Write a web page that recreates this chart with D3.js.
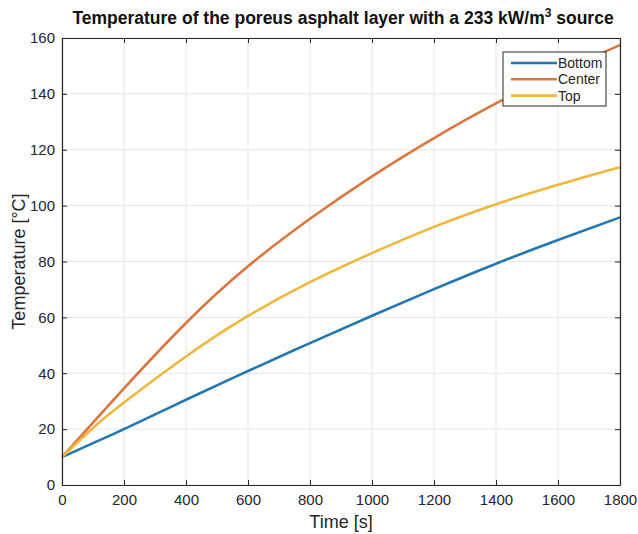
<!DOCTYPE html>
<html>
<head>
<meta charset="utf-8">
<style>
  body { margin: 0; background: #fff; }
  svg { display: block; font-family: "Liberation Sans", Arial, sans-serif; }
</style>
</head>
<body>
<svg id="chart"></svg>
<script src="https://cdn.jsdelivr.net/npm/d3@7"></script>
<script>
// data
const times = [0, 100, 200, 400, 600, 800, 1000, 1200, 1400, 1600, 1800];
const bottom = [10, 15, 20, 30.5, 40.8, 50.8, 60.6, 70.1, 79.2, 87.7, 95.8];
const center = [10, 22.3, 34.6, 58, 78.3, 95.3, 110.5, 124.2, 136.6, 147.5, 157.5];
const top_ = [10, 20.4, 29.5, 46, 60.5, 72.6, 83, 92.4, 100.5, 107.5, 113.8];
const seriesNames = ["Bottom", "Center", "Top"];
const seriesColors = ["#2377b3", "#d9773f", "#efb73e"];
const xTicks = [0, 200, 400, 600, 800, 1000, 1200, 1400, 1600, 1800];
const yTicks = [0, 20, 40, 60, 80, 100, 120, 140, 160];

const W = 638, H = 534;
const m = { left: 62, right: 18, top: 38, bottom: 49 };
const iw = W - m.left - m.right, ih = H - m.top - m.bottom;
const axisColor = "#262626";

let svg = d3.select("#chart").attr("width", W).attr("height", H);

let x = d3.scaleLinear().domain([0, 1800]).range([m.left, m.left + iw]);
let y = d3.scaleLinear().domain([0, 160]).range([m.top + ih, m.top]);

// grid
let grid = svg.append("g");
grid.selectAll(".gx").data(xTicks).enter().append("line")
  .attr("x1", d => x(d)).attr("x2", d => x(d))
  .attr("y1", m.top).attr("y2", m.top + ih)
  .attr("stroke", "#e5e5e5").attr("stroke-width", 1);
grid.selectAll(".gy").data(yTicks).enter().append("line")
  .attr("x1", m.left).attr("x2", m.left + iw)
  .attr("y1", d => y(d)).attr("y2", d => y(d))
  .attr("stroke", "#e5e5e5").attr("stroke-width", 1);

// lines
const allSeries = [bottom, center, top_];
let line = d3.line()
  .x((d, i) => x(times[i]))
  .y(d => y(d))
  .curve(d3.curveNatural);

svg.append("g").selectAll("path").data(allSeries).enter().append("path")
  .attr("d", d => line(d))
  .attr("fill", "none")
  .attr("stroke", (d, i) => seriesColors[i])
  .attr("stroke-width", 2.6);

// axes (ticks inward, box all round)
let xAxis = svg.append("g").attr("transform", `translate(0,${m.top + ih})`)
  .call(d3.axisBottom(x).tickValues(xTicks).tickFormat(d3.format("d"))
    .tickSize(-5).tickPadding(9).tickSizeOuter(0));
let xTop = svg.append("g").attr("transform", `translate(0,${m.top})`)
  .call(d3.axisTop(x).tickValues(xTicks).tickSize(-5).tickFormat("").tickSizeOuter(0));
let yAxis = svg.append("g").attr("transform", `translate(${m.left},0)`)
  .call(d3.axisLeft(y).tickValues(yTicks).tickSize(-5).tickPadding(7).tickSizeOuter(0));
let yRight = svg.append("g").attr("transform", `translate(${m.left + iw},0)`)
  .call(d3.axisRight(y).tickValues(yTicks).tickSize(-5).tickFormat("").tickSizeOuter(0));

[xAxis, xTop, yAxis, yRight].forEach(a => {
  a.selectAll("path").attr("stroke", axisColor).attr("stroke-width", 1.2);
  a.selectAll("line").attr("stroke", axisColor);
  a.selectAll("text").attr("fill", axisColor).style("font-size", "15px")
    .style("font-family", "Liberation Sans, Arial, sans-serif");
});

// axis labels
svg.append("text")
  .attr("x", m.left + iw / 2).attr("y", 528)
  .attr("text-anchor", "middle").attr("fill", axisColor)
  .style("font-size", "18px").text("Time [s]");

svg.append("text")
  .attr("transform", `translate(25,${m.top + ih / 2}) rotate(-90)`)
  .attr("text-anchor", "middle").attr("fill", axisColor)
  .style("font-size", "18px").text("Temperature [°C]");

// title
let title = svg.append("text")
  .attr("x", m.left + iw / 2 + 2).attr("y", 24)
  .attr("text-anchor", "middle").attr("fill", "#111")
  .style("font-size", "17.5px").style("font-weight", "bold");
title.append("tspan").text("Temperature of the poreus asphalt layer with a 233 kW/m");
title.append("tspan").attr("dy", -7).style("font-size", "12px").text("3");
title.append("tspan").attr("dy", 7).text(" source");

// legend
let lg = svg.append("g").attr("transform", "translate(503,52)");
lg.append("rect").attr("width", 103).attr("height", 54)
  .attr("fill", "#fff").attr("stroke", axisColor).attr("stroke-width", 1);
seriesNames.forEach((name, i) => {
  let yy = 11 + i * 16.3;
  lg.append("line").attr("x1", 8).attr("x2", 54).attr("y1", yy).attr("y2", yy)
    .attr("stroke", seriesColors[i]).attr("stroke-width", 2.6);
  lg.append("text").attr("x", 55).attr("y", yy + 5)
    .attr("fill", axisColor).style("font-size", "14px").text(name);
});
</script>
</body>
</html>
